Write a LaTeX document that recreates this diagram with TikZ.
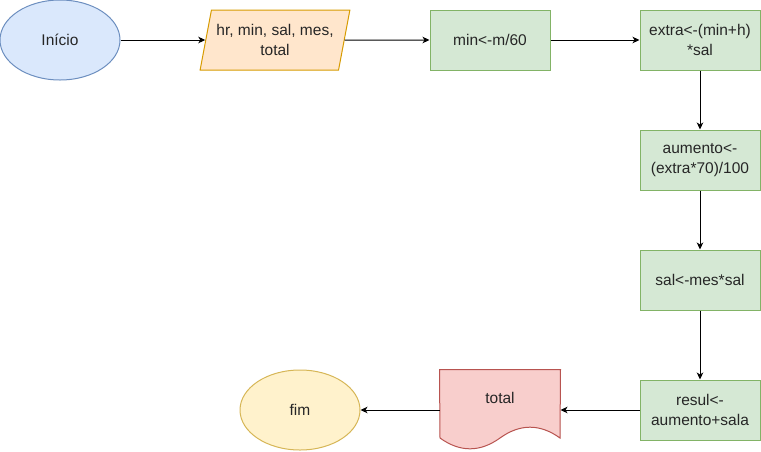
\documentclass[tikz,border=0pt]{standalone}
\usepackage{fontspec}
\setmainfont{Liberation Sans}
\usepackage{xcolor}
\usepackage{tikz}
\usetikzlibrary{arrows.meta,shapes.geometric,positioning,calc}

\definecolor{blueFill}{HTML}{DAE8FC}
\definecolor{blueLine}{HTML}{6C8EBF}
\definecolor{orangeFill}{HTML}{FFE6CC}
\definecolor{orangeLine}{HTML}{D79B00}
\definecolor{greenFill}{HTML}{D5E8D4}
\definecolor{greenLine}{HTML}{82B366}
\definecolor{redFill}{HTML}{F8CECC}
\definecolor{redLine}{HTML}{B85450}
\definecolor{yellowFill}{HTML}{FFF2CC}
\definecolor{yellowLine}{HTML}{D6B656}
\definecolor{textGray}{HTML}{262626}

\tikzset{
    base/.style={line width=1pt, text=textGray, align=center, inner sep=0pt,
        font=\fontsize{15.5}{20}\selectfont},
    terminal/.style={base, ellipse, minimum width=120pt, minimum height=80pt},
    process/.style={base, rectangle, draw=greenLine, fill=greenFill,
        minimum width=120pt, minimum height=60pt},
    inputbox/.style={base, trapezium, trapezium left angle=71.57,
        trapezium right angle=108.43, trapezium stretches=true,
        draw=orangeLine, fill=orangeFill, minimum width=150pt, minimum height=60pt},
    flow/.style={line width=1pt, -{Stealth[length=7pt,width=6.5pt,inset=2pt]}}
}

\begin{document}
\begin{tikzpicture}[x=1pt, y=-1pt]
    \useasboundingbox (0,0) rectangle (761,451);

    % Start and input
    \node[terminal, draw=blueLine, fill=blueFill] (inicio) at (60,40) {Início};
    \node[inputbox] (dados) at (275,40) {hr, min, sal, mes,\\total};

    % Processing steps
    \node[process] (minuto) at (490,40) {min<-m/60};
    \node[process] (extra) at (700,40) {extra<-(min+h)\\*sal};
    \node[process] (aumento) at (700,160) {aumento<-\\(extra*70)/100};
    \node[process] (sal) at (700,280) {sal<-mes*sal};
    \node[process] (resul) at (700,410) {resul<-\\aumento+sala};

    % Output document
    \node[base, minimum width=120pt, minimum height=80pt] (total) at (500,410) {};
    \draw[line width=1pt, draw=redLine, fill=redFill]
        (total.north west) -- (total.north east) -- (560,438)
        .. controls (540,423.6) and (520,423.6) .. (500,438)
        .. controls (480,452.4) and (460,452.4) .. (440,438) -- cycle;
    \node[base] (totaltxt) at (500,398) {total};

    % End
    \node[terminal, draw=yellowLine, fill=yellowFill] (fim) at (300,410) {fim};

    % Connectors
    \foreach \from/\to in {inicio/dados, dados/minuto, minuto/extra, extra/aumento,
        aumento/sal, sal/resul, resul/total, total/fim} {
        \draw[flow] (\from) -- (\to);
    }

\end{tikzpicture}
\end{document}
